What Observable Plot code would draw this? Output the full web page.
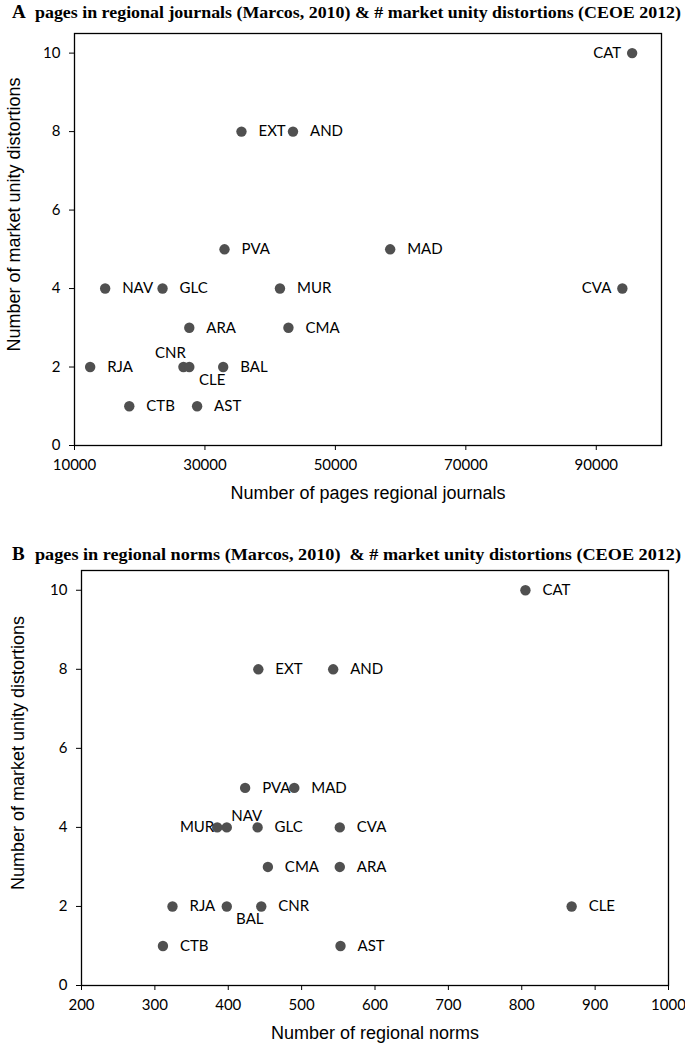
<!DOCTYPE html>
<html><head><meta charset="utf-8">
<script src="https://cdn.jsdelivr.net/npm/d3@7"></script>
<script src="https://cdn.jsdelivr.net/npm/@observablehq/plot@0.6"></script>
<style>
body{margin:0;background:#fff;width:685px;height:1049px;position:relative;overflow:hidden}
.abs{position:absolute;left:0}
.ttl{z-index:2}
</style></head><body>
<div id="pA" class="abs" style="top:25px"></div>
<div id="pB" class="abs" style="top:560px"></div>
<div id="tA" class="abs ttl" style="top:0px"></div>
<div id="tB" class="abs ttl" style="top:540px"></div>
<script>
// ---- data ----
const regions = ["CAT","EXT","AND","PVA","MAD","NAV","GLC","MUR","CVA","ARA","CMA","RJA","CNR","CLE","BAL","CTB","AST"];
const distortions = [10,8,8,5,5,4,4,4,4,3,3,2,2,2,2,1,1];
const journalPages = [95500,35600,43500,33000,58400,14700,23500,41500,94000,27600,42800,12400,26700,27600,32800,18400,28800];
const regionalNorms = [805,441,543,423,490,398,440,385,552,552,454,324,445,868,398,311,553];
const yTicks = [0,2,4,6,8,10];
const xTicksA = [10000,30000,50000,70000,90000];
const xTicksB = [200,300,400,500,600,700,800,900,1000];
const titleA = ["A", "pages in regional journals (Marcos, 2010) & # market unity distortions (CEOE 2012)"];
const titleB = ["B", "pages in regional norms (Marcos, 2010)  & # market unity distortions (CEOE 2012)"];
const xLabelA = "Number of pages regional journals";
const xLabelB = "Number of regional norms";
const yLabel = "Number of market unity distortions";

// label placement (style config)
const placeA = {CAT:"left", CVA:"left", CNR:"aboveLeft", CLE:"belowRight"};
const placeB = {MUR:"leftTight", NAV:"aboveRight", BAL:"belowRight"};

const dataA = regions.map((r,i)=>({region:r, x:journalPages[i], y:distortions[i]}));
const dataB = regions.map((r,i)=>({region:r, x:regionalNorms[i], y:distortions[i]}));

function drawTitle(el, parts, baseline){
  const svg = d3.select(el).append("svg").attr("width",685).attr("height",baseline+6).style("display","block");
  const g = svg.append("g").attr("font-family","'Liberation Serif','Times New Roman',serif").attr("font-weight","bold").attr("fill","#000");
  g.append("text").attr("x",12).attr("y",baseline).attr("font-size",19).text(parts[0]);
  g.append("text").attr("x",35).attr("y",baseline).attr("font-size",17)
    .attr("textLength",646).attr("lengthAdjust","spacingAndGlyphs")
    .style("white-space","pre").text(parts[1]);
}
drawTitle("#tA", titleA, 18);
drawTitle("#tB", titleB, 20);

function labelMarks(data, place){
  const get = k => data.filter(d => place[d.region] === k);
  const common = {x:"x", y:"y", text:"region", fill:"#000", fontSize:15, fontFamily:"Lato"};
  return [
    Plot.text(data.filter(d => !place[d.region]), {...common, dx:17, textAnchor:"start"}),
    Plot.text(get("left"), {...common, dx:-11, textAnchor:"end"}),
    Plot.text(get("leftTight"), {...common, dx:-3, textAnchor:"end"}),
    Plot.text(get("aboveLeft"), {...common, dx:-13, dy:-14, textAnchor:"middle"}),
    Plot.text(get("belowRight"), {...common, dx:23, dy:13, textAnchor:"middle"}),
    Plot.text(get("aboveRight"), {...common, dx:20, dy:-11, textAnchor:"middle"})
  ];
}

function panel(data, place, opts){
  return Plot.plot({
    width:685, height:opts.height,
    marginTop:opts.mt, marginBottom:opts.mb, marginLeft:opts.ml, marginRight:opts.mr,
    style:{fontFamily:"Lato", fontSize:"15px", color:"#000", background:"transparent", overflow:"visible"},
    x:{domain:opts.xDomain},
    y:{domain:[0,10.5]},
    marks:[
      Plot.axisY({ticks:yTicks, tickSize:5, tickPadding:9, label:null, tickFormat:d=>String(d), fontSize:15}),
      Plot.axisX({ticks:opts.xTicks, tickSize:5, tickPadding:9, label:null, tickFormat:d=>String(d), fontSize:15}),
      Plot.frame({stroke:"#000", strokeWidth:1.3}),
      Plot.dot(data, {x:"x", y:"y", r:5.2, fill:"#505050", stroke:"none"}),
      ...labelMarks(data, place),
      Plot.text([opts.xLabel], {frameAnchor:"bottom", dy:opts.xLabelDy, lineAnchor:"middle", textAnchor:"middle", text:d=>d, fontFamily:"'Liberation Sans',Arial,sans-serif", fontSize:18, fill:"#000"}),
      Plot.text([yLabel], {frameAnchor:"left", dx:opts.yLabelDx, dy:opts.yLabelDy, rotate:-90, textAnchor:"middle", lineAnchor:"middle", text:d=>d, fontFamily:"'Liberation Sans',Arial,sans-serif", fontSize:18, fill:"#000"})
    ]
  });
}

document.getElementById("pA").appendChild(panel(dataA, placeA, {
  height:485, mt:8, mb:65, ml:74, mr:24, xDomain:[10000,100000], xTicks:xTicksA,
  xLabel:xLabelA, xLabelDy:48, yLabelDx:-60, yLabelDy:-25
}));
document.getElementById("pB").appendChild(panel(dataB, placeB, {
  height:489, mt:10, mb:64, ml:81, mr:17, xDomain:[200,1000], xTicks:xTicksB,
  xLabel:xLabelB, xLabelDy:48, yLabelDx:-63, yLabelDy:-25
}));
</script>
</body></html>
